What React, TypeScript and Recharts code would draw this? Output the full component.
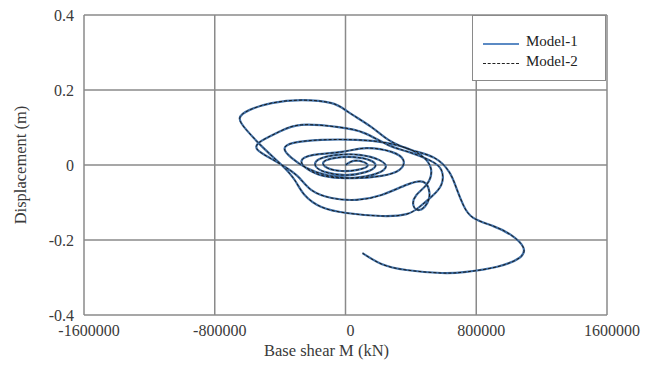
import { LineChart, Line, XAxis, YAxis, CartesianGrid } from 'recharts';

// base shear (kN) in time order
const shear = [
  0, 49000, 110000, 134000, 73000, -24000, -110000, -134000, -61000, 49000,
  147000, 183000, 122000, 0, -122000, -183000, -159000, -49000, 85000, 208000,
  244000, 159000, 12000, -134000, -232000, -269000, -195000, -24000,
  128000, 281000, 354000, 330000, 220000, 37000, -116000, -238000, -330000, -373000,
  -318000, -147000, 67000, 250000, 403000, 495000, 525000, 495000, 434000, 415000,
  452000, 501000, 513000, 476000,
  373000, 220000, 67000, -85000, -208000, -281000, -360000, -464000, -537000, -525000,
  -409000, -269000, -43000, 116000, 263000, 385000, 513000, 586000, 586000, 525000,
  452000, 373000, 220000, 6000, -147000, -250000, -311000, -391000, -501000, -605000,
  -647000, -586000, -452000, -269000, -85000, 18000, 159000, 263000, 403000, 544000,
  635000, 678000, 721000, 782000, 904000, 1014000, 1087000, 1063000, 922000, 739000,
  586000, 373000, 220000, 104000,
];

// displacement (m), Model-1
const model1Disp = [
  0, 0.011, 0.008, -0.003, -0.013, -0.016, -0.008, 0.008, 0.019, 0.021,
  0.013, -0.003, -0.019, -0.027, -0.019, -0.003, 0.016, 0.027, 0.027, 0.013,
  -0.008, -0.027, -0.035, -0.029, -0.011, 0.011, 0.027, 0.035,
  0.045, 0.035, 0.013, -0.013, -0.029, -0.035, -0.027, -0.008, 0.019, 0.043,
  0.059, 0.067, 0.067, 0.059, 0.04, 0.013, -0.019, -0.053, -0.08, -0.107,
  -0.12, -0.101, -0.072, -0.045,
  -0.053, -0.08, -0.093, -0.088, -0.067, -0.035, -0.008, 0.019, 0.04, 0.061,
  0.088, 0.107, 0.101, 0.085, 0.053, 0.035, 0.013, -0.013, -0.053, -0.085,
  -0.112, -0.131, -0.136, -0.128, -0.112, -0.08, -0.04, 0, 0.045, 0.093,
  0.125, 0.147, 0.165, 0.173, 0.165, 0.141, 0.101, 0.067, 0.04, 0.019,
  -0.019, -0.061, -0.107, -0.141, -0.163, -0.187, -0.219, -0.248, -0.272, -0.285,
  -0.288, -0.28, -0.264, -0.235,
];

// Model-2 lies on top of Model-1 everywhere in the picture
const model2Disp = model1Disp;

const xTicks = [-1600000, -800000, 0, 800000, 1600000];
const yTicks = [-0.4, -0.2, 0, 0.2, 0.4];

const data = shear.map((x, i) => ({ x, m1: model1Disp[i], m2: model2Disp[i] }));

const font = "'Liberation Serif', 'Times New Roman', serif";

const App = () => {
  return (
    <div style={{ position: 'absolute', left: 0, top: 0, width: 645, height: 374, background: '#fff', fontFamily: font }}>
      <LineChart width={645} height={374} data={data} margin={{ top: 15, right: 38, bottom: 12, left: 0 }}>
        <CartesianGrid stroke="#8a8a8a" strokeWidth={1.5} />
        <XAxis
          type="number"
          dataKey="x"
          domain={[-1600000, 1600000]}
          ticks={xTicks}
          axisLine={false}
          tickLine={false}
          height={47}
          tickMargin={4}
          tick={{ fontFamily: font, fontSize: 16, fill: '#3a3a3a', dx: 5 }}
          label={{ value: 'Base shear M (kN)', position: 'insideBottom', offset: 6, dx: -19, style: { fontFamily: font, fontSize: 16.5, fill: '#3a3a3a' } }}
        />
        <YAxis
          type="number"
          domain={[-0.4, 0.4]}
          ticks={yTicks}
          axisLine={false}
          tickLine={false}
          width={84}
          tickMargin={4}
          tick={{ fontFamily: font, fontSize: 16, fill: '#3a3a3a' }}
          label={{ value: 'Displacement (m)', angle: -90, position: 'insideLeft', offset: 20, style: { fontFamily: font, fontSize: 16.5, fill: '#3a3a3a', textAnchor: 'middle' } }}
        />
        <Line type="natural" dataKey="m1" stroke="#3f6fa6" strokeWidth={2.2} dot={false} isAnimationActive={false} />
        <Line type="natural" dataKey="m2" stroke="#1a1a1a" strokeWidth={1} strokeDasharray="3 2" dot={false} isAnimationActive={false} />
      </LineChart>
      <div
        style={{
          position: 'absolute',
          left: 472,
          top: 15,
          width: 134,
          height: 66,
          boxSizing: 'border-box',
          border: '1.5px solid #8a8a8a',
          background: '#fff',
          fontSize: 15,
          color: '#222',
        }}
      >
        <div style={{ position: 'absolute', left: 10, top: 27, width: 36, borderTop: '2px solid #5b8ac4' }} />
        <div style={{ position: 'absolute', left: 53, top: 17 }}>Model-1</div>
        <div style={{ position: 'absolute', left: 10, top: 47, width: 36, borderTop: '1px dashed #222' }} />
        <div style={{ position: 'absolute', left: 53, top: 37 }}>Model-2</div>
      </div>
    </div>
  );
};

export default App;
